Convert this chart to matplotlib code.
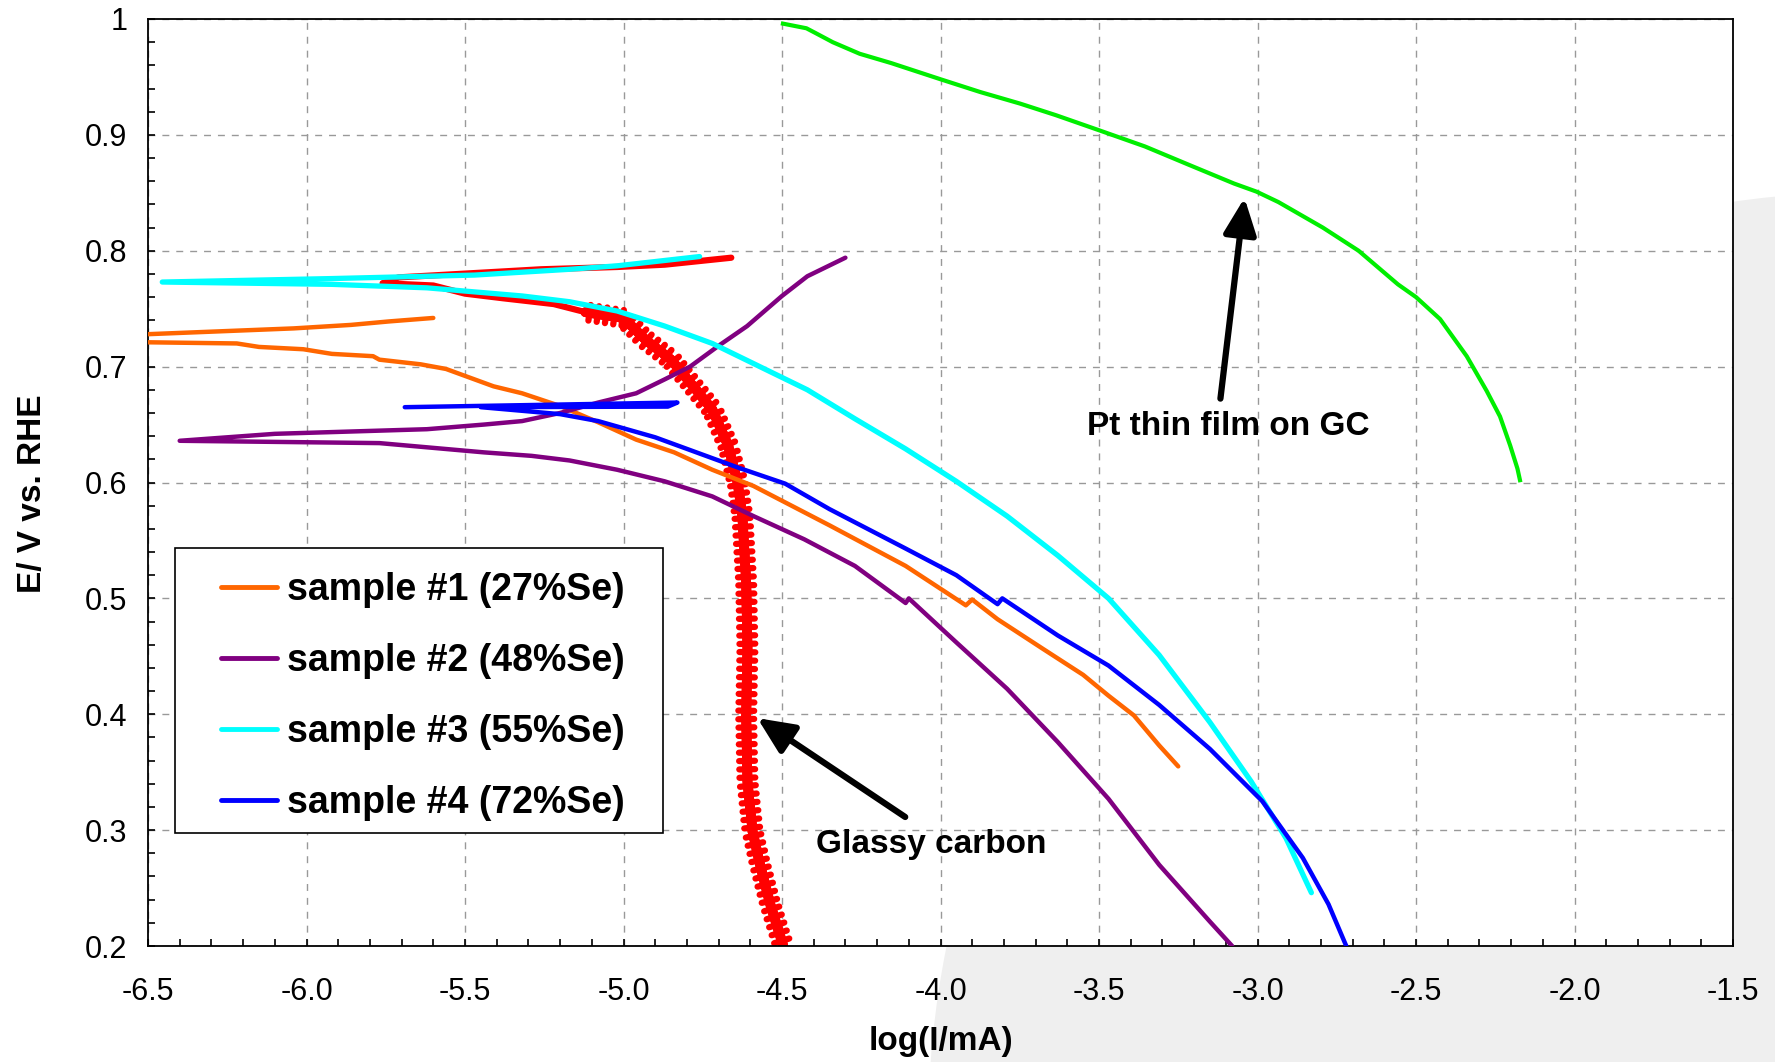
import matplotlib.pyplot as plt
import matplotlib.patheffects as pe
from matplotlib.patches import Ellipse, Rectangle
from matplotlib.ticker import MultipleLocator, FormatStrFormatter, FuncFormatter

plt.rcParams['font.family'] = ['Liberation Sans', 'DejaVu Sans']

# log(I/mA) and E (V vs RHE)
s1_x = [-5.60, -5.74, -5.86, -6.04, -6.50, -6.60, -6.50, -6.22, -6.15, -6.01, -5.92, -5.79, -5.77,
        -5.64, -5.56, -5.41, -5.32, -5.20, -5.08, -4.96, -4.84, -4.72, -4.59, -4.35, -4.11,
        -3.92, -3.90, -3.82, -3.68, -3.55, -3.47, -3.39, -3.31, -3.25]
s1_y = [0.742, 0.739, 0.736, 0.733, 0.728, 0.725, 0.721, 0.720, 0.717, 0.715, 0.711, 0.709, 0.706,
        0.702, 0.698, 0.683, 0.677, 0.666, 0.652, 0.637, 0.626, 0.611, 0.597, 0.563, 0.528,
        0.494, 0.499, 0.482, 0.457, 0.434, 0.416, 0.399, 0.373, 0.355]

s2_x = [-4.30, -4.42, -4.50, -4.61, -4.70, -4.79, -4.87, -4.96, -5.08, -5.20, -5.32, -5.44, -5.62,
        -6.10, -6.40, -5.77, -5.44, -5.29, -5.17, -5.02, -4.87, -4.72, -4.59, -4.43, -4.27,
        -4.11, -4.10, -3.95, -3.79, -3.63, -3.47, -3.31, -3.15, -3.08]
s2_y = [0.794, 0.778, 0.761, 0.735, 0.718, 0.700, 0.689, 0.677, 0.669, 0.660, 0.653, 0.650, 0.646,
        0.642, 0.636, 0.634, 0.626, 0.623, 0.619, 0.611, 0.601, 0.588, 0.571, 0.551, 0.528,
        0.496, 0.500, 0.462, 0.422, 0.376, 0.327, 0.270, 0.221, 0.200]

s3_x = [-4.76, -5.02, -5.17, -5.47, -5.92, -6.455, -5.92, -5.62, -5.32, -5.17, -5.02, -4.87, -4.72,
        -4.57, -4.42, -4.27, -4.11, -3.95, -3.79, -3.63, -3.47, -3.31, -3.15, -3.02, -2.91, -2.83]
s3_y = [0.795, 0.787, 0.784, 0.779, 0.776, 0.773, 0.771, 0.768, 0.761, 0.756, 0.748, 0.735, 0.720,
        0.700, 0.680, 0.655, 0.629, 0.601, 0.571, 0.537, 0.500, 0.451, 0.393, 0.342, 0.293, 0.246]

s4_x = [-5.69, -4.83, -4.86, -5.45, -5.20, -5.08, -4.90, -4.78, -4.64, -4.49, -4.35, -4.11, -3.95,
        -3.82, -3.805, -3.63, -3.47, -3.31, -3.15, -2.985, -2.857, -2.776, -2.72]
s4_y = [0.665, 0.669, 0.6655, 0.665, 0.659, 0.653, 0.639, 0.627, 0.613, 0.599, 0.577, 0.543, 0.520,
        0.495, 0.500, 0.468, 0.442, 0.408, 0.370, 0.325, 0.276, 0.236, 0.200]

# glassy carbon: scan top part, then the steep part
gc_top_x = [-4.66, -4.87, -5.02, -5.26, -5.71, -5.76, -5.60, -5.50, -5.38, -5.22, -5.12]
gc_top_y = [0.794, 0.788, 0.786, 0.784, 0.777, 0.772, 0.770, 0.763, 0.759, 0.754, 0.747]
gc_x = [-5.12, -5.00, -4.93, -4.85, -4.78, -4.72, -4.67, -4.64, -4.625, -4.613, -4.609, -4.613,
        -4.609, -4.593, -4.569, -4.537, -4.497]
gc_y = [0.747, 0.742, 0.723, 0.706, 0.683, 0.663, 0.632, 0.600, 0.571, 0.514, 0.457, 0.399,
        0.342, 0.299, 0.270, 0.236, 0.201]

pt_x = [-4.497, -4.423, -4.395, -4.34, -4.255, -4.156, -4.0, -3.875, -3.749, -3.636, -3.5, -3.355,
        -3.215, -3.074, -3.003, -2.934, -2.794, -2.681, -2.557, -2.5, -2.424, -2.34, -2.277,
        -2.235, -2.203, -2.18, -2.172]
pt_y = [0.996, 0.992, 0.988, 0.980, 0.970, 0.962, 0.948, 0.937, 0.927, 0.917, 0.904, 0.890,
        0.874, 0.858, 0.851, 0.842, 0.820, 0.800, 0.771, 0.760, 0.741, 0.709, 0.679,
        0.657, 0.632, 0.612, 0.602]

labels = ['sample #1 (27%Se)', 'sample #2 (48%Se)', 'sample #3 (55%Se)', 'sample #4 (72%Se)']
colors = ['#FF6600', '#800080', '#00FFFF', '#0000FF']

fig = plt.figure(figsize=(17.75, 10.62), dpi=100)
# faint globe in the background
fig.patches.append(Ellipse((1868 / 1775, 1 - 1132 / 1062), 2 * 940 / 1775, 2 * 940 / 1062,
                           transform=fig.transFigure, facecolor='#efefef', edgecolor='none', zorder=-1))
ax = fig.add_axes([148 / 1775, 1 - 946 / 1062, (1733 - 148) / 1775, (946 - 19) / 1062])
ax.set_facecolor('white')

red_fx = [pe.withTickedStroke(angle=90, spacing=6, length=0.95, linewidth=4.5, foreground='#FF0000'),
          pe.withTickedStroke(angle=-90, spacing=6, length=0.95, linewidth=4.5, foreground='#FF0000'),
          pe.Normal()]
ax.plot(gc_top_x, gc_top_y, color='#FF0000', lw=4.5, solid_capstyle='round', zorder=2)
ax.plot(gc_x, gc_y, color='#FF0000', lw=7, solid_capstyle='round', zorder=2, path_effects=red_fx)
ax.plot(pt_x, pt_y, color='#00EE00', lw=3, zorder=3)

lines = []
for xs, ys, c, lab, w in zip([s1_x, s2_x, s3_x, s4_x], [s1_y, s2_y, s3_y, s4_y], colors, labels,
                             [3.2, 3.2, 3.8, 3.2]):
    ln, = ax.plot(xs, ys, color=c, lw=w, label=lab, solid_capstyle='round', zorder=3)
    lines.append(ln)

ax.set_xlim(-6.5, -1.5)
ax.set_ylim(0.2, 1.0)
ax.xaxis.set_major_locator(MultipleLocator(0.5))
ax.xaxis.set_minor_locator(MultipleLocator(0.1))
ax.yaxis.set_major_locator(MultipleLocator(0.1))
ax.yaxis.set_minor_locator(MultipleLocator(0.02))
ax.xaxis.set_major_formatter(FormatStrFormatter('%.1f'))
ax.yaxis.set_major_formatter(FuncFormatter(lambda v, p: '%g' % round(v, 2)))
ax.tick_params(which='both', direction='in', length=5, width=1.2, labelsize=22)
ax.tick_params(axis='x', pad=22)
ax.tick_params(axis='y', pad=15)
ax.grid(True, which='major', color='#999999', ls=(0, (5, 5)), lw=1)
for sp in ax.spines.values():
    sp.set_linewidth(1.3)

ax.set_xlabel('log(I/mA)', fontsize=24, fontweight='bold', labelpad=14)
ax.set_ylabel('E/ V vs. RHE', fontsize=24, fontweight='bold')
ax.yaxis.set_label_coords(-0.063, 0.488)

ax.annotate('', xy=(-3.04, 0.848), xytext=(-3.118, 0.67),
            arrowprops=dict(arrowstyle='-|>,head_length=1.1,head_width=0.5', color='black', lw=4.5,
                            mutation_scale=20))
ax.text(-3.093, 0.648, 'Pt thin film on GC', fontsize=24, fontweight='bold', ha='center', va='center')
ax.annotate('', xy=(-4.585, 0.398), xytext=(-4.104, 0.31),
            arrowprops=dict(arrowstyle='-|>,head_length=1.1,head_width=0.5', color='black', lw=4.5,
                            mutation_scale=20))
ax.text(-4.029, 0.288, 'Glassy carbon', fontsize=24, fontweight='bold', ha='center', va='center')

# legend box
ax.add_patch(Rectangle((175 / 1775, 1 - 833 / 1062), 488 / 1775, 285 / 1062, transform=fig.transFigure,
                       facecolor='white', edgecolor='black', lw=1.2, zorder=5))
leg = ax.legend(handles=lines, loc='upper left', bbox_to_anchor=(221 / 1775, 1 - 572 / 1062),
                bbox_transform=fig.transFigure, frameon=False, borderpad=0, borderaxespad=0,
                prop=dict(size=27, weight='bold'), handlelength=1.5, handletextpad=0.25,
                labelspacing=0.93)
leg.set_zorder(6)
for h in leg.get_lines():
    h.set_linewidth(3.5)

fig.savefig('out.png', dpi=100)
